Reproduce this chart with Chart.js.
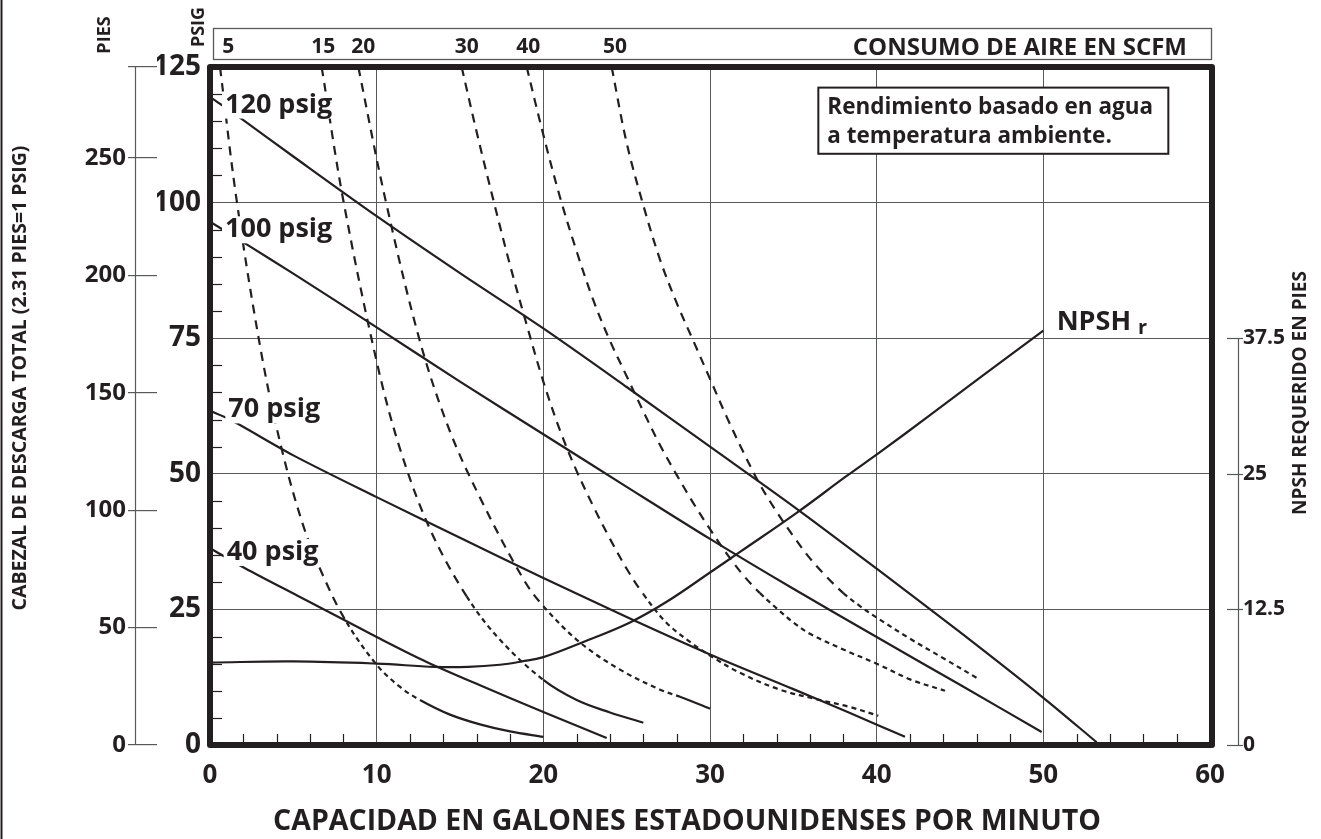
<!DOCTYPE html>
<html>
<head>
<meta charset="utf-8">
<title>Curva de rendimiento</title>
<script src="https://cdn.jsdelivr.net/npm/chart.js@4.4.1/dist/chart.umd.min.js"></script>
<style>
  html, body { margin: 0; padding: 0; background: #fff; }
  canvas { display: block; }
</style>
</head>
<body>
<canvas id="mychart" width="1321" height="839"></canvas>
<script>
// tick labels
var gpmTicks  = [0, 10, 20, 30, 40, 50, 60];
var psigTicks = [0, 25, 50, 75, 100, 125];
var piesTicks = [0, 50, 100, 150, 200, 250];
var npshTicks = [0, 12.5, 25, 37.5];
var scfmNames = ['5', '15', '20', '30', '40', '50'];
var scfmAt    = [1.1, 6.8, 9.2, 15.4, 19.1, 24.3];

// discharge lines at fixed air inlet pressure (gpm, psig)
var perfNames = ['120 psig', '100 psig', '70 psig', '40 psig'];
var p120Gpm  = [0, 2, 5, 10, 15, 20, 25, 30, 35, 40, 45, 50, 53.2];
var p120Psig = [119.5, 115.2, 108.5, 97.5, 87, 76.8, 66, 55, 44, 32.5, 20.8, 8.7, 0.5];
var p100Gpm  = [0, 2.2, 5, 10, 15, 20, 25, 30, 35, 40, 45, 49.9];
var p100Psig = [96.5, 92.3, 86.9, 77, 67, 57.3, 47.6, 38, 28.8, 19.9, 11.1, 2.4];
var p70Gpm   = [0, 1.2, 5, 10, 15, 20, 25, 30, 35, 38.4, 41.7];
var p70Psig  = [61.6, 60, 53.4, 45.7, 38.2, 30.8, 23.6, 16.7, 10.3, 5.9, 1.5];
var p40Gpm   = [0, 2.1, 5.4, 8.4, 10, 13, 16.2, 20, 23.8];
var p40Psig  = [36.3, 32.6, 27.3, 22.5, 19.9, 15.3, 11, 6.1, 1.3];

// NPSH required (gpm, feet)
var npshGpm = [0, 5, 10, 13.5, 15.5, 17.4, 18.7, 20, 22.4, 25.2, 27.4, 30, 31.8, 35.2, 38.2, 40.2, 43.2, 46.4, 50];
var npshFt  = [7.6, 7.7, 7.5, 7.2, 7.2, 7.4, 7.7, 8.1, 9.5, 11.3, 13.2, 15.9, 17.8, 21.4, 24.8, 27, 30.4, 34.1, 38.2];

// air consumption curves in SCFM (gpm, psig)
var s5Gpm   = [0.6, 1.6, 3.1, 4.3, 5.6, 6.8, 8.2, 10, 11.4, 12.6, 14.4, 16.2, 18, 20];
var s5Psig  = [125, 100.4, 71.9, 54.6, 40.4, 31.1, 22.6, 14.8, 10.7, 8.3, 5.6, 3.8, 2.5, 1.5];
var s15Gpm  = [6.7, 8.0, 10, 11.4, 13.2, 15.4, 17.4, 20, 22, 24, 26];
var s15Psig = [125, 100.4, 70.7, 54.6, 39.8, 27.4, 19.4, 12, 8.3, 6, 4.1];
var s20Gpm  = [8.9, 10.5, 12.6, 14.4, 16.3, 18.8, 20, 22.2, 24.6, 27, 28.2, 30];
var s20Psig = [125, 100.9, 74.4, 57.8, 45, 30.6, 25.6, 18.9, 13.9, 10.2, 8.9, 6.7];
var s30Gpm  = [15.1, 16, 17, 18, 19, 20, 21, 22, 23, 24, 25, 26, 27.4, 28.8, 30, 31.8, 34.2, 36.6, 38.4, 40.1];
var s30Psig = [125, 113, 100.5, 88.5, 77.5, 67, 58, 50.5, 44, 38, 32.5, 27.8, 22.5, 19, 16.5, 13.3, 10.2, 8.3, 7, 5.4];
var s40Gpm  = [19, 20, 21, 22, 23, 24, 25, 26, 27, 28, 29, 30, 31, 32, 33, 34, 35, 36, 38, 40, 42, 44.1];
var s40Psig = [125, 112.5, 101, 91, 82, 74.5, 68, 61.5, 55.3, 49.8, 44.6, 39.8, 35.3, 31.3, 28, 25.2, 22.6, 20.5, 17.6, 15, 12.1, 10];
var s50Gpm  = [24.1, 25, 26, 27, 28, 29, 30, 31, 32, 33, 34, 35, 36, 37, 38, 39, 40, 42, 44, 46.1];
var s50Psig = [125, 111, 99.5, 89.5, 81.5, 74.5, 67.5, 60.5, 54, 48, 43, 38.5, 34.4, 31, 28, 25.6, 23.5, 19.6, 16, 12.2];

var ink = '#231f20';
var thin = '#58595b';
var fam = '"Open Sans", "Noto Sans", sans-serif';

function font(px) { return { family: fam, size: px, weight: 'bold', lineHeight: 1.2 }; }
function pts(xs, ys) { return xs.map(function (x, i) { return { x: x, y: ys[i] }; }); }
function fixTicks(list) {
    return function (scale) { scale.ticks = list.map(function (v) { return { value: v }; }); };
}
function upright(ctx, text, x, y, px) {
    ctx.save();
    ctx.translate(x, y);
    ctx.rotate(-Math.PI / 2);
    ctx.font = 'bold ' + px + 'px ' + fam;
    ctx.textAlign = 'center';
    ctx.textBaseline = 'middle';
    ctx.fillText(text, 0, 0);
    ctx.restore();
}
function seg(ctx, x1, y1, x2, y2) {
    ctx.beginPath(); ctx.moveTo(x1, y1); ctx.lineTo(x2, y2); ctx.stroke();
}

var datasets = [];
[[p120Gpm, p120Psig], [p100Gpm, p100Psig], [p70Gpm, p70Psig], [p40Gpm, p40Psig]].forEach(function (p, i) {
    datasets.push({
        label: perfNames[i], data: pts(p[0], p[1]), yAxisID: 'y',
        borderColor: ink, borderWidth: 2.2, pointRadius: 0, tension: 0.3
    });
});
datasets.push({
    label: 'NPSHr', data: pts(npshGpm, npshFt), yAxisID: 'yN',
    borderColor: ink, borderWidth: 2.2, pointRadius: 0, tension: 0.4
});

var air = [[s5Gpm, s5Psig], [s15Gpm, s15Psig], [s20Gpm, s20Psig], [s30Gpm, s30Psig], [s40Gpm, s40Psig], [s50Gpm, s50Psig]];
var solidTail = [12.6, 20, 28.2, null, null, null];
air.forEach(function (c, i) {
    var from = solidTail[i];
    datasets.push({
        label: scfmNames[i] + ' SCFM', data: pts(c[0], c[1]), yAxisID: 'y',
        borderColor: ink, borderWidth: 2.2, pointRadius: 0, tension: 0.35,
        borderDash: [9, 7],
        segment: {
            borderDash: function (ctx) {
                if (from !== null && ctx.p0.parsed.x >= from - 0.001) return [];
                return ctx.p0.parsed.y < 30 ? [5, 4] : [9, 7];
            }
        }
    });
});

var decor = {
    id: 'decor',
    beforeDraw: function (chart) {
        var ctx = chart.ctx;
        ctx.save();
        ctx.fillStyle = '#fff';
        ctx.fillRect(0, 0, chart.width, chart.height);
        ctx.restore();
    },
    afterDatasetsDraw: function (chart) {
        var ctx = chart.ctx, a = chart.chartArea;
        var sx = chart.scales.x, sy = chart.scales.y, sn = chart.scales.yN;
        ctx.save();

        // pressure names sit on their own lines
        var tags = [[0.9, 116.6], [0.9, 93.6], [1.1, 60.4], [1.0, 34.1]];
        ctx.font = 'bold 27px ' + fam;
        ctx.textAlign = 'left';
        ctx.textBaseline = 'alphabetic';
        perfNames.forEach(function (name, i) {
            var px = sx.getPixelForValue(tags[i][0]), py = sy.getPixelForValue(tags[i][1]);
            var w = ctx.measureText(name).width;
            ctx.fillStyle = '#fff';
            ctx.fillRect(px - 3, py - 21, w + 5, 27);
            ctx.fillStyle = ink;
            ctx.fillText(name, px, py);
        });

        // NPSH r
        var nx = sx.getPixelForValue(50.8), ny = sn.getPixelForValue(38.3);
        ctx.font = 'bold 27px ' + fam;
        ctx.fillText('NPSH', nx, ny);
        var nw = ctx.measureText('NPSH').width;
        ctx.font = 'bold 20px ' + fam;
        ctx.fillText('r', nx + nw + 7, ny + 4);

        // note box
        var bl = sx.getPixelForValue(36.5), bt = sy.getPixelForValue(121.2);
        var br = sx.getPixelForValue(57.5), bb = sy.getPixelForValue(109);
        ctx.fillStyle = '#fff';
        ctx.fillRect(bl, bt, br - bl, bb - bt);
        ctx.strokeStyle = ink;
        ctx.lineWidth = 2;
        ctx.strokeRect(bl, bt, br - bl, bb - bt);
        ctx.fillStyle = ink;
        ctx.font = 'bold 22.5px ' + fam;
        ctx.fillText('Rendimiento basado en agua', bl + 9, bt + 26);
        ctx.fillText('a temperatura ambiente.', bl + 9, bt + 55);

        // small ticks inside the frame
        ctx.strokeStyle = ink;
        ctx.lineWidth = 1.2;
        for (var v = 5; v < 125; v += 5) {
            if (v % 25 === 0) continue;
            var py = Math.round(sy.getPixelForValue(v)) + 0.5;
            seg(ctx, a.left, py, a.left + 12, py);
        }
        for (var g = 2; g < 60; g += 2) {
            if (g % 10 === 0) continue;
            var px = Math.round(sx.getPixelForValue(g)) + 0.5;
            seg(ctx, px, a.bottom, px, a.bottom - 11);
        }

        // heavy frame
        ctx.lineWidth = 6;
        ctx.lineJoin = 'round';
        ctx.strokeRect(a.left, a.top, a.right - a.left + 2, a.bottom - a.top);
        ctx.restore();
    },
    afterDraw: function (chart) {
        var ctx = chart.ctx, a = chart.chartArea;
        var sf = chart.scales.yFt, sn = chart.scales.yN;
        ctx.save();
        ctx.strokeStyle = thin;
        ctx.lineWidth = 1.2;

        // feet axis line
        seg(ctx, 135.5, sf.getPixelForValue(0), 135.5, sf.getPixelForValue(125 * 2.31));

        // NPSH axis line and ticks
        seg(ctx, 1238.5, sn.getPixelForValue(0), 1238.5, sn.getPixelForValue(37.5));
        npshTicks.forEach(function (v) {
            var py = Math.round(sn.getPixelForValue(v)) + 0.5;
            seg(ctx, 1227, py, 1243, py);
        });

        // air consumption header box
        ctx.lineWidth = 1.3;
        ctx.strokeRect(a.left + 3.5, 28.5, a.right - a.left - 2, 31);
        ctx.fillStyle = ink;
        ctx.font = 'bold 24px ' + fam;
        ctx.textAlign = 'right';
        ctx.textBaseline = 'alphabetic';
        ctx.fillText('CONSUMO DE AIRE EN SCFM', 1187, 55);

        ctx.font = 'bold 28.5px ' + fam;
        ctx.textAlign = 'center';
        ctx.fillText('CAPACIDAD EN GALONES ESTADOUNIDENSES POR MINUTO', (a.left + a.right) / 2 - 23, 830);

        upright(ctx, 'PIES', 104.5, 35, 18);
        upright(ctx, 'PSIG', 198.5, 27, 18);
        upright(ctx, 'CABEZAL DE DESCARGA TOTAL (2.31 PIES=1 PSIG)', 20, 378, 19.5);
        upright(ctx, 'NPSH REQUERIDO EN PIES', 1301, 393, 19);

        // page frame on the left
        ctx.strokeStyle = ink;
        ctx.lineWidth = 2;
        seg(ctx, 1.5, 0, 1.5, chart.height);
        ctx.restore();
    }
};

var myChart = document.getElementById('mychart').getContext('2d');
var chart = new Chart(myChart, {
    type: 'line',
    data: { datasets: datasets },
    options: {
        responsive: false,
        animation: false,
        layout: { padding: 0 },
        plugins: { legend: { display: false }, tooltip: { enabled: false } },
        scales: {
            x: {
                type: 'linear', position: 'bottom', min: 0, max: 60,
                afterBuildTicks: fixTicks(gpmTicks),
                afterFit: function (s) { s.height = 94; },
                grid: { color: thin, lineWidth: 1, drawTicks: false },
                border: { display: false },
                ticks: { font: font(26), color: ink, padding: 15, autoSkip: false, maxRotation: 0 }
            },
            xTop: {
                type: 'linear', position: 'top', min: 0, max: 60,
                afterBuildTicks: fixTicks(scfmAt),
                afterFit: function (s) { s.height = 67; },
                grid: { display: false, drawTicks: false },
                border: { display: false },
                ticks: {
                    font: font(21), color: ink, padding: 7, autoSkip: false, maxRotation: 0,
                    callback: function (v, i) { return scfmNames[i]; }
                }
            },
            y: {
                type: 'linear', position: 'left', weight: 0, min: 0, max: 125,
                afterBuildTicks: fixTicks(psigTicks),
                afterFit: function (s) { s.width = 53; },
                grid: { color: thin, lineWidth: 1, drawTicks: false },
                border: { display: false },
                ticks: { font: font(28), color: ink, padding: 9, autoSkip: false }
            },
            yFt: {
                type: 'linear', position: 'left', weight: 10, min: 0, max: 125 * 2.31,
                afterBuildTicks: fixTicks(piesTicks.concat([125 * 2.31])),
                afterFit: function (s) { s.width = 157; },
                grid: { display: true, drawOnChartArea: false, drawTicks: true, tickLength: 29, color: thin, lineWidth: 1.2 },
                border: { display: false },
                ticks: {
                    font: font(24), color: ink, padding: 2, autoSkip: false,
                    callback: function (v) { return v > 250 ? '' : v; }
                }
            },
            yN: {
                type: 'linear', position: 'right', min: 0, max: 62.5,
                afterBuildTicks: fixTicks(npshTicks),
                afterFit: function (s) { s.width = 111; },
                grid: { display: false, drawTicks: false },
                border: { display: false },
                ticks: { font: font(21), color: ink, padding: 33, autoSkip: false }
            }
        }
    },
    plugins: [decor]
});
</script>
</body>
</html>
